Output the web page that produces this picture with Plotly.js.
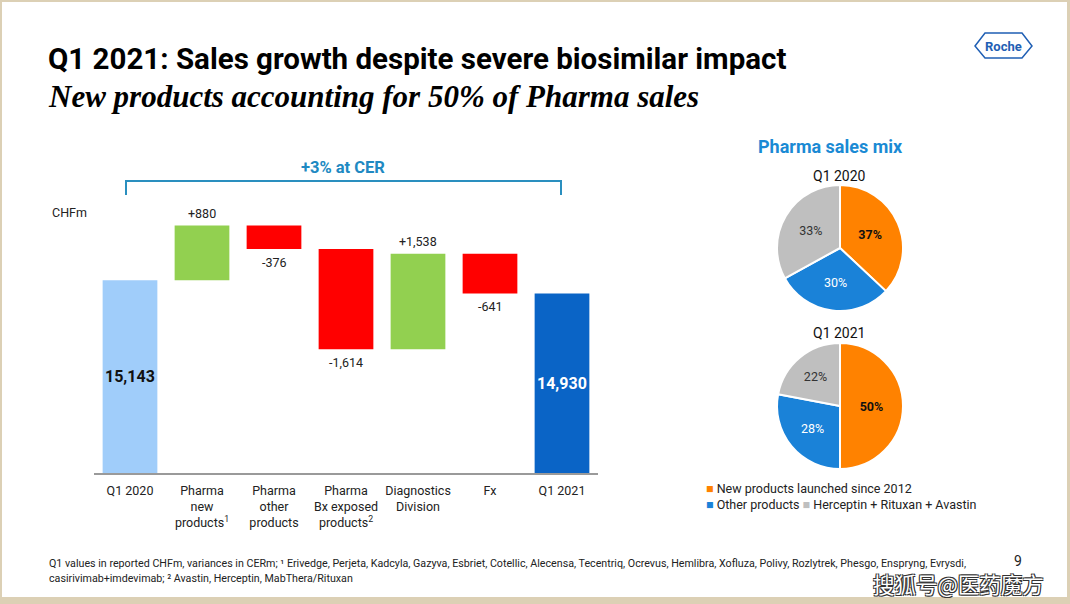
<!DOCTYPE html>
<html>
<head>
<meta charset="utf-8">
<script src="https://cdn.plot.ly/plotly-3.0.1.min.js"></script>
<style>
html,body{margin:0;padding:0;background:#fff;}
#chart{width:1070px;height:604px;}
</style>
</head>
<body>
<div id="chart"></div>
<script>
// ---- Data ----
const categories = ['Q1 2020', 'Pharma<br>new<br>products<sup>1</sup>', 'Pharma<br>other<br>products',
  'Pharma<br>Bx exposed<br>products<sup>2</sup>', 'Diagnostics<br>Division', 'Fx', 'Q1 2021'];
const measures = ['absolute', 'relative', 'relative', 'relative', 'relative', 'relative', 'total'];
const values = [15143, 880, -376, -1614, 1538, -641, 14930];
const valueLabels = ['15,143', '+880', '-376', '-1,614', '+1,538', '-641', '14,930'];

const mixLabels = ['New products launched since 2012', 'Other products', 'Herceptin + Rituxan + Avastin'];
const mix2020 = [37, 30, 33];
const mix2021 = [50, 28, 22];

// ---- Styles ----
const C_START = '#a0cdfa', C_END = '#0a64c6', C_UP = '#92d050', C_DOWN = '#ff0000';
const MIX_COLORS = ['#ff8200', '#1a82d8', '#bfbfbf'];
const FONT = 'Roboto, "Liberation Sans", Arial, sans-serif';
const Y_RANGE = [12040, 17240];

// Build waterfall bars (base + height)
const bases = [], heights = [], colors = [];
let run = 0;
for (let i = 0; i < values.length; i++) {
  if (measures[i] === 'absolute') { bases.push(0); heights.push(values[i]); colors.push(C_START); run = values[i]; }
  else if (measures[i] === 'total') { bases.push(0); heights.push(values[i]); colors.push(C_END); run = values[i]; }
  else { bases.push(run); heights.push(values[i]); colors.push(values[i] >= 0 ? C_UP : C_DOWN); run += values[i]; }
}

const annotations = [];
// Value labels
for (let i = 0; i < values.length; i++) {
  if (measures[i] !== 'relative') {
    annotations.push({x: categories[i], y: (Y_RANGE[0] + values[i]) / 2, xref: 'x', yref: 'y',
      text: '<b>' + valueLabels[i] + '</b>', showarrow: false,
      font: {family: FONT, size: 16, color: measures[i] === 'total' ? '#ffffff' : '#111111'}});
  } else if (values[i] >= 0) {
    annotations.push({x: categories[i], y: bases[i] + values[i], xref: 'x', yref: 'y', yanchor: 'bottom', yshift: 3,
      text: valueLabels[i], showarrow: false, font: {family: FONT, size: 12.5, color: '#222'}});
  } else {
    annotations.push({x: categories[i], y: bases[i] + values[i], xref: 'x', yref: 'y', yanchor: 'top', yshift: -4,
      text: valueLabels[i], showarrow: false, font: {family: FONT, size: 12.5, color: '#222'}});
  }
}

const W = 1070, H = 604;
const px = (x) => x / W, py = (y) => 1 - y / H;
function txt(x, y, text, size, color, opts) {
  return Object.assign({x: px(x), y: py(y), xref: 'paper', yref: 'paper', text: text, showarrow: false,
    xanchor: 'left', yanchor: 'middle', font: {family: FONT, size: size, color: color}}, opts || {});
}

annotations.push(
  txt(46, 59, '<b>Q1 2021: Sales growth despite severe biosimilar impact</b>', 29.5, '#000'),
  txt(46, 96, '<b><i>New products accounting for 50% of Pharma sales</i></b>', 31, '#000',
    {font: {family: '"Liberation Serif", "DejaVu Serif", serif', size: 31, color: '#000'}}),
  txt(50, 213, 'CHFm', 12.5, '#222'),
  txt(343, 167, '<b>+3% at CER</b>', 16.5, '#2089c2', {xanchor: 'center'}),
  txt(830, 147, '<b>Pharma sales mix</b>', 18, '#1a8ad4', {xanchor: 'center'}),
  txt(839, 176, 'Q1 2020', 14, '#111', {xanchor: 'center'}),
  txt(839, 333, 'Q1 2021', 14, '#111', {xanchor: 'center'}),
  txt(704, 488, '<span style="color:' + MIX_COLORS[0] + '">■</span> ' + mixLabels[0], 12.5, '#222'),
  txt(704, 504, '<span style="color:' + MIX_COLORS[1] + '">■</span> ' + mixLabels[1] +
    ' <span style="color:' + MIX_COLORS[2] + '">■</span> ' + mixLabels[2], 12.5, '#222'),
  txt(47, 563, 'Q1 values in reported CHFm, variances in CERm; ¹ Erivedge, Perjeta, Kadcyla, Gazyva, Esbriet, Cotellic, Alecensa, Tecentriq, Ocrevus, Hemlibra, Xofluza, Polivy, Rozlytrek, Phesgo, Enspryng, Evrysdi,', 10.7, '#222'),
  txt(47, 578, 'casirivimab+imdevimab; ² Avastin, Herceptin, MabThera/Rituxan', 10.7, '#222'),
  txt(1018, 561, '9', 14, '#222', {xanchor: 'center'}),
  txt(1003, 46, '<b>Roche</b>', 13, '#1f5fb4', {xanchor: 'center'}),
  {x: px(958), y: py(583), xref: 'paper', yref: 'paper', text: '搜狐号@医药魔方', showarrow: false,
    xanchor: 'center', yanchor: 'middle',
    font: {family: '"Noto Sans CJK SC", sans-serif', size: 21.5, color: '#ffffff',
      shadow: '1px 1px 0 #333, -1px -1px 0 #333, 1px -1px 0 #333, -1px 1px 0 #333'}}
);

const shapes = [
  // page background + border
  {type: 'rect', xref: 'paper', yref: 'paper', x0: px(2), x1: px(1067), y0: py(597), y1: py(2),
    fillcolor: '#ffffff', line: {width: 0}, layer: 'below'},
  // bracket
  {type: 'path', xref: 'paper', yref: 'paper',
    path: 'M ' + px(126) + ' ' + py(195) + ' L ' + px(126) + ' ' + py(181) + ' L ' + px(561) + ' ' + py(181) + ' L ' + px(561) + ' ' + py(195),
    line: {color: '#2a8fbf', width: 2}},
  // Roche hexagon
  {type: 'path', xref: 'paper', yref: 'paper',
    path: 'M ' + px(975) + ' ' + py(46) + ' L ' + px(985) + ' ' + py(33) + ' L ' + px(1022) + ' ' + py(33) +
      ' L ' + px(1032) + ' ' + py(46) + ' L ' + px(1022) + ' ' + py(58) + ' L ' + px(985) + ' ' + py(58) + ' Z',
    line: {color: '#1f5fb4', width: 1.5}}
];

const data = [
  {type: 'bar', x: categories, y: heights, base: bases, width: 0.76,
    marker: {color: colors, line: {width: 0}}, hoverinfo: 'skip', showlegend: false},
  {type: 'pie', labels: mixLabels, values: mix2020, sort: false, direction: 'clockwise', rotation: 0,
    domain: {x: [px(777), px(903)], y: [py(311), py(185)]},
    marker: {colors: MIX_COLORS, line: {color: '#ffffff', width: 2}},
    textinfo: 'percent', texttemplate: ['<b>%{percent}</b>', '%{percent}', '%{percent}'],
    textposition: 'inside', insidetextorientation: 'horizontal',
    textfont: {family: FONT, size: 12.5, color: ['#111', '#ffffff', '#333']},
    hoverinfo: 'skip', showlegend: false},
  {type: 'pie', labels: mixLabels, values: mix2021, sort: false, direction: 'clockwise', rotation: 0,
    domain: {x: [px(777), px(903)], y: [py(469), py(343)]},
    marker: {colors: MIX_COLORS, line: {color: '#ffffff', width: 2}},
    textinfo: 'percent', texttemplate: ['<b>%{percent}</b>', '%{percent}', '%{percent}'],
    textposition: 'inside', insidetextorientation: 'horizontal',
    textfont: {family: FONT, size: 12.5, color: ['#111', '#ffffff', '#333']},
    hoverinfo: 'skip', showlegend: false}
];

const layout = {
  width: W, height: H,
  margin: {l: 0, r: 0, t: 0, b: 0},
  paper_bgcolor: '#dcd0b5',
  plot_bgcolor: 'rgba(0,0,0,0)',
  showlegend: false,
  hovermode: false,
  font: {family: FONT, size: 12.5, color: '#222'},
  xaxis: {domain: [px(94), px(598)], type: 'category', showline: true, linecolor: '#9a9a9a', linewidth: 1.5,
    ticks: '', ticklabelstandoff: 5, showgrid: false, zeroline: false, fixedrange: true,
    tickfont: {family: FONT, size: 12.5, color: '#222'}},
  yaxis: {domain: [py(473), py(150)], range: Y_RANGE, visible: false, showgrid: false, zeroline: false, fixedrange: true},
  annotations: annotations,
  shapes: shapes
};

Plotly.newPlot('chart', data, layout, {displayModeBar: false, staticPlot: true});
</script>
</body>
</html>
